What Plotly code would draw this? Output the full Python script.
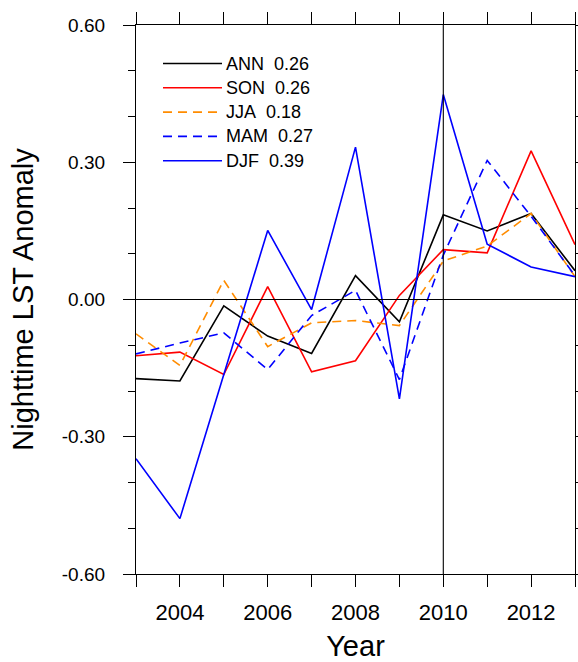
import plotly.graph_objects as go

# Seasonal nighttime land-surface-temperature anomalies, 2003-2013
years = list(range(2003, 2014))
ann = [-0.173, -0.178, -0.014, -0.080, -0.118, 0.052, -0.049, 0.185, 0.150, 0.188, 0.063]
son = [-0.123, -0.115, -0.164, 0.028, -0.158, -0.134, 0.009, 0.109, 0.102, 0.325, 0.120]
jja = [-0.075, -0.144, 0.042, -0.103, -0.051, -0.046, -0.057, 0.084, 0.117, 0.188, 0.050]
mam = [-0.119, -0.095, -0.073, -0.153, -0.035, 0.020, -0.175, 0.097, 0.304, 0.182, 0.052]
djf = [-0.348, -0.479, -0.164, 0.151, -0.022, 0.333, -0.217, 0.448, 0.121, 0.071, 0.050]

series_names = ["ANN", "SON", "JJA", "MAM", "DJF"]
series_trends = ["0.26", "0.26", "0.18", "0.27", "0.39"]
series_values = [ann, son, jja, mam, djf]
series_colors = ["black", "#ff0000", "#ff8c00", "#0000ff", "#0000ff"]
series_dash = ["solid", "solid", "9px,6px", "9px,6px", "solid"]

y_ticks = [-0.6, -0.3, 0.0, 0.3, 0.6]
y_ticktext = ["-0.60", "-0.30", "0.00", "0.30", "0.60"]
x_ticks = [2004, 2006, 2008, 2010, 2012]

W, H = 578, 662
L, R, T, B = 136, 3, 25, 88
PW, PH = W - L - R, H - T - B

fig = go.Figure()
for name, vals, col, dash in zip(series_names, series_values, series_colors, series_dash):
    fig.add_trace(go.Scatter(x=years, y=vals, mode="lines", name=name,
                             line=dict(color=col, width=1.6, dash=dash),
                             showlegend=False))

# reference lines: zero anomaly and the year 2010
fig.add_hline(y=0, line=dict(color="black", width=1.1))
fig.add_vline(x=2010, line=dict(color="black", width=1.1))

# hand-placed legend in the upper left of the plot
def px_x(p):
    return (p - L) / PW

def px_y(p):
    return (H - B - p) / PH

row0, step = 63.5, 24.3
for i, (name, trend, col, dash) in enumerate(zip(series_names, series_trends, series_colors, series_dash)):
    yy = px_y(row0 + i * step)
    fig.add_shape(type="line", xref="paper", yref="paper",
                  x0=px_x(163), x1=px_x(222), y0=yy, y1=yy,
                  line=dict(color=col, width=1.6, dash=dash))
    fig.add_annotation(xref="paper", yref="paper", x=px_x(224), y=yy,
                       text=f"{name}\u00a0\u00a0{trend}", showarrow=False,
                       xanchor="left", yanchor="middle",
                       font=dict(size=18, color="black"))

font_family = "Liberation Sans, Arial, Helvetica, sans-serif"

fig.update_xaxes(range=[2003, 2013], tickvals=x_ticks, ticks="outside", ticklen=12,
                 tickwidth=1.2, tickcolor="black",
                 minor=dict(dtick=1, tick0=2003, ticks="outside", ticklen=12, tickwidth=1.2,
                            tickcolor="black"),
                 showline=True, linecolor="black", linewidth=1.2, mirror="ticks",
                 showgrid=False, zeroline=False, ticklabelstandoff=6, automargin=False,
                 tickfont=dict(size=22, color="black"),
                 title=dict(text="Year", font=dict(size=29, color="black"), standoff=19))
fig.update_yaxes(range=[-0.6, 0.6], tickvals=y_ticks, ticktext=y_ticktext,
                 ticks="outside", ticklen=12, tickwidth=1.2, tickcolor="black",
                 minor=dict(dtick=0.1, tick0=0, ticks="outside", ticklen=7, tickwidth=1.2,
                            tickcolor="black"),
                 showline=True, linecolor="black", linewidth=1.2, mirror="ticks",
                 showgrid=False, zeroline=False, ticklabelstandoff=14, automargin=False,
                 tickfont=dict(size=19, color="black"),
                 title=dict(text="Nighttime LST Anomaly", font=dict(size=29, color="black"),
                            standoff=19))

fig.update_layout(width=W, height=H, margin=dict(l=L, r=R, t=T, b=B),
                  paper_bgcolor="white", plot_bgcolor="white",
                  font=dict(family=font_family, color="black"))

fig.write_html("out.html")
